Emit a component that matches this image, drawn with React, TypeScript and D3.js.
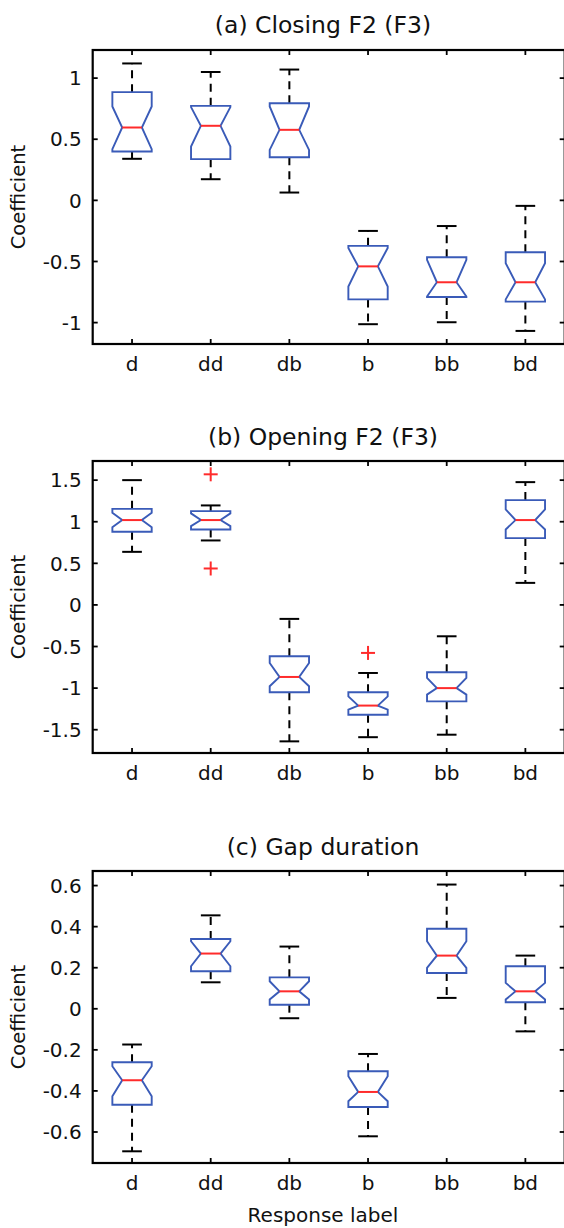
import React from "react";
import * as d3 from "d3";

// response labels on the x axis
const labels = ["d", "dd", "db", "b", "bb", "bd"];

// (a) Closing F2 (F3)
const aHigh = [1.12, 1.05, 1.07, -0.25, -0.21, -0.045];
const aQ3 = [0.885, 0.773, 0.795, -0.372, -0.465, -0.424];
const aNotchHi = [0.768, 0.763, 0.768, -0.39, -0.487, -0.514];
const aMed = [0.596, 0.61, 0.577, -0.54, -0.67, -0.67];
const aNotchLo = [0.419, 0.44, 0.413, -0.705, -0.787, -0.81];
const aQ1 = [0.4, 0.337, 0.353, -0.81, -0.79, -0.828];
const aLow = [0.34, 0.173, 0.064, -1.013, -0.997, -1.068];
const aOut: number[][] = [[], [], [], [], [], []];
const aTicks = [-1, -0.5, 0, 0.5, 1];

// (b) Opening F2 (F3)
const bHigh = [1.5, 1.196, -0.168, -0.818, -0.377, 1.476];
const bQ3 = [1.155, 1.128, -0.617, -1.05, -0.81, 1.26];
const bNotchHi = [1.107, 1.1, -0.698, -1.1, -0.878, 1.148];
const bMed = [1.02, 1.02, -0.866, -1.21, -1.0, 1.02];
const bNotchLo = [0.935, 0.947, -0.978, -1.26, -1.078, 0.907];
const bQ1 = [0.879, 0.907, -1.05, -1.32, -1.159, 0.803];
const bLow = [0.638, 0.775, -1.64, -1.59, -1.56, 0.265];
const bOut: number[][] = [[], [1.57, 0.438], [], [-0.577], [], []];
const bTicks = [-1.5, -1, -0.5, 0, 0.5, 1, 1.5];

// (c) Gap duration
const cHigh = [-0.174, 0.455, 0.303, -0.22, 0.605, 0.259];
const cQ3 = [-0.26, 0.34, 0.153, -0.304, 0.39, 0.207];
const cNotchHi = [-0.28, 0.329, 0.134, -0.329, 0.329, 0.126];
const cMed = [-0.348, 0.269, 0.085, -0.405, 0.259, 0.085];
const cNotchLo = [-0.426, 0.207, 0.045, -0.45, 0.199, 0.045];
const cQ1 = [-0.467, 0.183, 0.02, -0.478, 0.174, 0.032];
const cLow = [-0.694, 0.129, -0.046, -0.621, 0.053, -0.11];
const cOut: number[][] = [[], [], [], [], [], []];
const cTicks = [-0.6, -0.4, -0.2, 0, 0.2, 0.4, 0.6];

const FONT = "'DejaVu Sans', sans-serif";
const BLUE = "#3a5bb8";
const RED = "#ff2b2b";

const panels = [
  {
    title: "(a) Closing F2 (F3)", top: 50, bottom: 344, domain: [-1.175, 1.23], titleY: 33,
    high: aHigh, q3: aQ3, nHi: aNotchHi, med: aMed, nLo: aNotchLo, q1: aQ1, low: aLow, out: aOut, ticks: aTicks,
  },
  {
    title: "(b) Opening F2 (F3)", top: 461, bottom: 753, domain: [-1.78, 1.73], titleY: 445,
    high: bHigh, q3: bQ3, nHi: bNotchHi, med: bMed, nLo: bNotchLo, q1: bQ1, low: bLow, out: bOut, ticks: bTicks,
  },
  {
    title: "(c) Gap duration", top: 871, bottom: 1163, domain: [-0.751, 0.671], titleY: 855,
    high: cHigh, q3: cQ3, nHi: cNotchHi, med: cMed, nLo: cNotchLo, q1: cQ1, low: cLow, out: cOut, ticks: cTicks,
  },
];

const x = d3.scaleLinear().domain([0.5, 6.5]).range([92.7, 564.7]);

function Panel({ p, last }: { p: any; last: boolean }) {
  const y = d3.scaleLinear().domain(p.domain).range([p.bottom, p.top]);
  const left = x.range()[0];
  const right = x.range()[1];
  const half = x(1.25) - x(1); // box half width
  const nh = half / 2; // notch half width
  const cap = x(1.125) - x(1);
  const tl = 5;

  return (
    <g>
      <text x={323} y={p.titleY} textAnchor="middle" fontFamily={FONT} fontSize={23.5} fill="#111">
        {p.title}
      </text>
      <text
        transform={`translate(25,${(p.top + p.bottom) / 2}) rotate(-90)`}
        textAnchor="middle"
        fontFamily={FONT}
        fontSize={19.5}
        fill="#111"
      >
        Coefficient
      </text>

      {labels.map((lab, i) => {
        const cx = x(i + 1);
        const yq1 = y(p.q1[i]);
        const yq3 = y(p.q3[i]);
        const yhi = y(Math.min(p.nHi[i], p.q3[i]));
        const ylo = y(Math.max(p.nLo[i], p.q1[i]));
        const ym = y(p.med[i]);
        const path = d3.path();
        path.moveTo(cx - half, yq3);
        path.lineTo(cx + half, yq3);
        path.lineTo(cx + half, yhi);
        path.lineTo(cx + nh, ym);
        path.lineTo(cx + half, ylo);
        path.lineTo(cx + half, yq1);
        path.lineTo(cx - half, yq1);
        path.lineTo(cx - half, ylo);
        path.lineTo(cx - nh, ym);
        path.lineTo(cx - half, yhi);
        path.closePath();
        return (
          <g key={lab}>
            <line x1={cx} x2={cx} y1={yq3} y2={y(p.high[i])} stroke="#000" strokeWidth={2} strokeDasharray="8,6" />
            <line x1={cx} x2={cx} y1={yq1} y2={y(p.low[i])} stroke="#000" strokeWidth={2} strokeDasharray="8,6" />
            <line x1={cx - cap} x2={cx + cap} y1={y(p.high[i])} y2={y(p.high[i])} stroke="#000" strokeWidth={2} />
            <line x1={cx - cap} x2={cx + cap} y1={y(p.low[i])} y2={y(p.low[i])} stroke="#000" strokeWidth={2} />
            <path d={path.toString()} fill="none" stroke={BLUE} strokeWidth={1.9} strokeLinejoin="miter" />
            <line x1={cx - nh} x2={cx + nh} y1={ym} y2={ym} stroke={RED} strokeWidth={2} />
            {p.out[i].map((v: number, j: number) => (
              <g key={j} stroke={RED} strokeWidth={2}>
                <line x1={cx - 7} x2={cx + 7} y1={y(v)} y2={y(v)} />
                <line x1={cx} x2={cx} y1={y(v) - 7} y2={y(v) + 7} />
              </g>
            ))}
          </g>
        );
      })}

      {/* frame */}
      <rect x={left} y={p.top} width={right - left} height={p.bottom - p.top} fill="none" stroke="#000" strokeWidth={2.2} />

      {/* x ticks */}
      {labels.map((lab, i) => (
        <g key={"xt" + lab}>
          <line x1={x(i + 1)} x2={x(i + 1)} y1={p.bottom} y2={p.bottom - tl} stroke="#000" strokeWidth={1.8} />
          <line x1={x(i + 1)} x2={x(i + 1)} y1={p.top} y2={p.top + tl} stroke="#000" strokeWidth={1.8} />
          <text x={x(i + 1)} y={p.bottom + 27} textAnchor="middle" fontFamily={FONT} fontSize={20} fill="#111">
            {lab}
          </text>
        </g>
      ))}

      {/* y ticks */}
      {p.ticks.map((t: number) => (
        <g key={"yt" + t}>
          <line x1={left} x2={left + tl} y1={y(t)} y2={y(t)} stroke="#000" strokeWidth={1.8} />
          <line x1={right - tl} x2={right} y1={y(t)} y2={y(t)} stroke="#000" strokeWidth={1.8} />
          <text x={left - 11} y={y(t)} dy="0.36em" textAnchor="end" fontFamily={FONT} fontSize={20} fill="#111">
            {String(t)}
          </text>
        </g>
      ))}

      {last && (
        <text x={323} y={1222} textAnchor="middle" fontFamily={FONT} fontSize={20} fill="#111">
          Response label
        </text>
      )}
    </g>
  );
}

export default function App() {
  return (
    <svg
      width={564}
      height={1228}
      viewBox="0 0 564 1228"
      style={{ position: "absolute", left: 0, top: 0, background: "#fff" }}
    >
      {panels.map((p, i) => (
        <Panel key={p.title} p={p} last={i === panels.length - 1} />
      ))}
    </svg>
  );
}
